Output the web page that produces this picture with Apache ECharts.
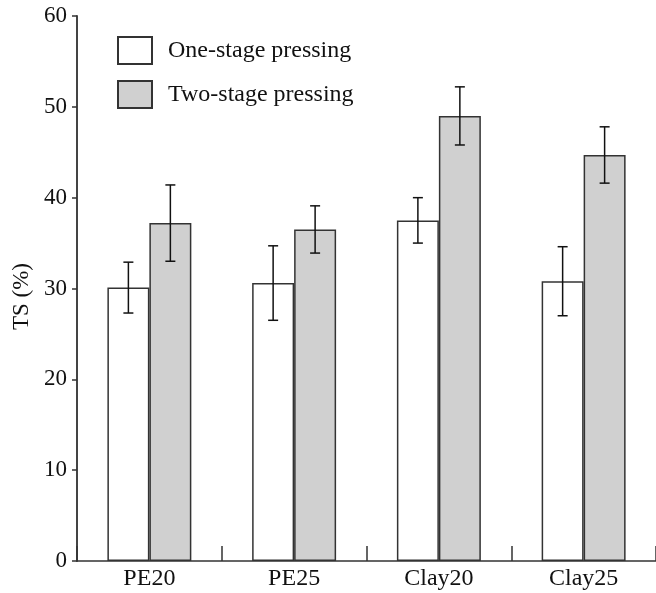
<!DOCTYPE html>
<html>
<head>
<meta charset="utf-8">
<script src="https://cdn.jsdelivr.net/npm/echarts@6/dist/echarts.min.js"></script>
<style>
	html, body { margin: 0; padding: 0; background: #fff; }
	#chart { width: 656px; height: 593px; }
</style>
</head>
<body>
<div id="chart"></div>
<script>
	// data
	const categories = ['PE20', 'PE25', 'Clay20', 'Clay25']
	const oneStage = [30.1, 30.6, 37.5, 30.8]
	const oneStageErr = [2.8, 4.1, 2.5, 3.8]
	const twoStage = [37.2, 36.5, 49.0, 44.7]
	const twoStageErr = [4.2, 2.6, 3.2, 3.1]
	const yTicks = [0, 10, 20, 30, 40, 50, 60]

	const barPct = 0.29
	const font = 'Liberation Serif, Times New Roman, serif'

	// error bars drawn on top of the bars, shifted to the bar centre
	function errorSeries(values, errs, side) {
		return {
			type: 'custom',
			silent: true,
			z: 10,
			data: values.map((v, i) => [i, v - errs[i], v + errs[i]]),
			renderItem(params, api) {
				const band = api.size([1, 0])[0]
				const dx = side * band * barPct / 2
				const lo = api.coord([api.value(0), api.value(1)])
				const hi = api.coord([api.value(0), api.value(2)])
				const x = lo[0] + dx
				const cap = 5
				const style = { stroke: '#111', lineWidth: 1.5 }
				return {
					type: 'group',
					children: [
						{ type: 'line', shape: { x1: x, y1: lo[1], x2: x, y2: hi[1] }, style },
						{ type: 'line', shape: { x1: x - cap, y1: lo[1], x2: x + cap, y2: lo[1] }, style },
						{ type: 'line', shape: { x1: x - cap, y1: hi[1], x2: x + cap, y2: hi[1] }, style }
					]
				}
			}
		}
	}

	const chart = echarts.init(document.getElementById('chart'))
	chart.setOption({
		animation: false,
		textStyle: { fontFamily: font, color: '#111' },
		grid: { left: 77, width: 582, top: 16, bottom: 32 },
		legend: {
			orient: 'vertical',
			left: 117,
			top: 36,
			padding: 0,
			itemWidth: 34,
			itemHeight: 27,
			itemGap: 15,
			icon: 'rect',
			textStyle: { fontFamily: font, fontSize: 24, color: '#111', padding: [0, 0, 0, 11] },
			data: ['One-stage pressing', 'Two-stage pressing']
		},
		xAxis: {
			type: 'category',
			data: categories,
			axisLine: { lineStyle: { color: '#333', width: 1.5 } },
			axisTick: { show: true, inside: true, length: 15, lineStyle: { color: '#333', width: 1.5 } },
			axisLabel: { fontFamily: font, fontSize: 24, color: '#111', margin: 6 }
		},
		yAxis: {
			type: 'value',
			min: yTicks[0],
			max: yTicks[yTicks.length - 1],
			interval: 10,
			name: 'TS (%)',
			nameLocation: 'middle',
			nameGap: 44,
			nameTextStyle: { fontFamily: font, fontSize: 23, color: '#111', padding: [0, 16, 0, 0] },
			splitLine: { show: false },
			axisLine: { show: true, lineStyle: { color: '#444', width: 2 } },
			axisTick: { show: true, length: 5, lineStyle: { color: '#333', width: 1.5 } },
			axisLabel: { fontFamily: font, fontSize: 23, color: '#111', margin: 10 }
		},
		series: [
			{
				name: 'One-stage pressing',
				type: 'bar',
				barWidth: (barPct * 100) + '%',
				barGap: '0%',
				data: oneStage,
				itemStyle: { color: '#ffffff', borderColor: '#333', borderWidth: 1.5 }
			},
			{
				name: 'Two-stage pressing',
				type: 'bar',
				barWidth: (barPct * 100) + '%',
				barGap: '0%',
				data: twoStage,
				itemStyle: { color: '#d0d0d0', borderColor: '#333', borderWidth: 1.5 }
			},
			errorSeries(oneStage, oneStageErr, -1),
			errorSeries(twoStage, twoStageErr, 1)
		]
	})
</script>
</body>
</html>
